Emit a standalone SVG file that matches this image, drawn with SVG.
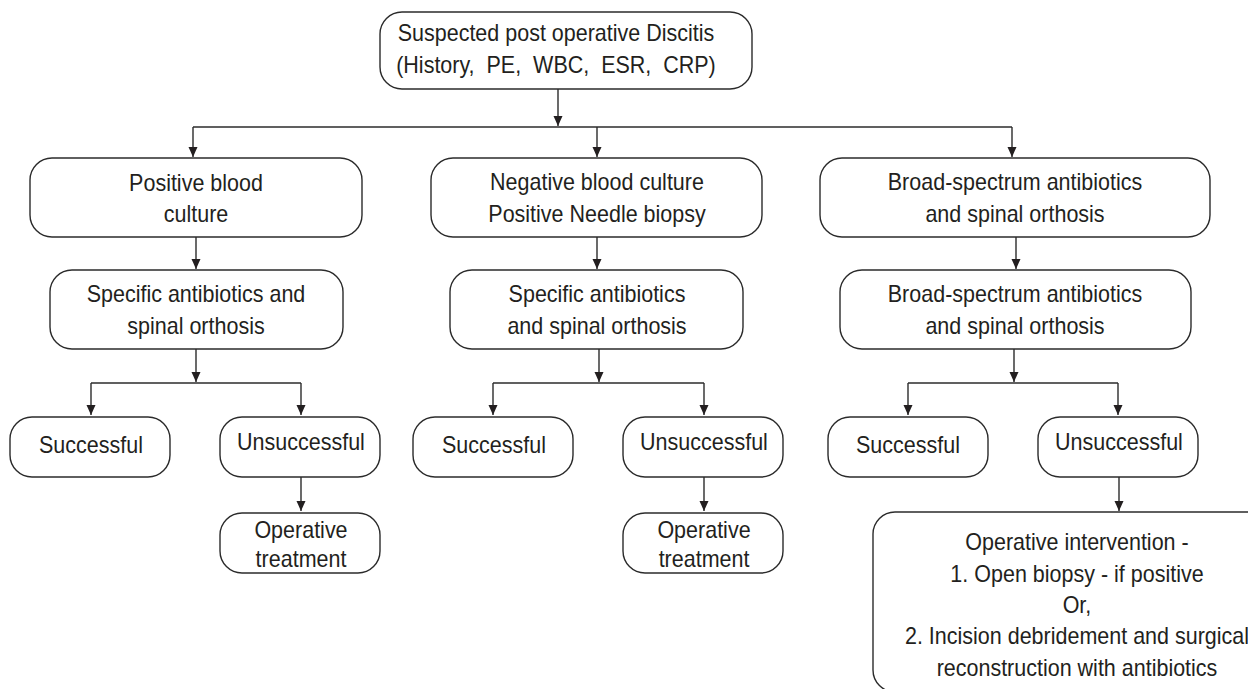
<svg xmlns="http://www.w3.org/2000/svg" width="1248" height="689" viewBox="0 0 1248 689">
<style>
.box{fill:#fff;stroke:#2b2b2b;stroke-width:1.4}
text{font-family:"Liberation Sans",Arial,sans-serif;font-size:23px;fill:#231f20;text-anchor:middle;transform-box:fill-box;transform-origin:center;transform:scaleX(0.935)}
.c{fill:none;stroke:#2b2b2b;stroke-width:1.4}
</style>
<defs>
<marker id="ah" markerUnits="userSpaceOnUse" markerWidth="10" markerHeight="10" refX="10" refY="4.5" orient="auto">
<path d="M0,0 L10,4.5 L0,9 z" fill="#231f20"/>
</marker>
</defs>
<rect width="1248" height="689" fill="#fff"/>
<g id="connectors">
<path class="c" d="M558,89 V126" marker-end="url(#ah)"/>
<path class="c" d="M193,127 H1012"/>
<path class="c" d="M193,127 V157" marker-end="url(#ah)"/>
<path class="c" d="M597,127 V157" marker-end="url(#ah)"/>
<path class="c" d="M1012,127 V157" marker-end="url(#ah)"/>
<path class="c" d="M196,237 V269" marker-end="url(#ah)"/>
<path class="c" d="M597,237 V269" marker-end="url(#ah)"/>
<path class="c" d="M1016,237 V269" marker-end="url(#ah)"/>
<path class="c" d="M196,349 V382" marker-end="url(#ah)"/>
<path class="c" d="M599,349 V382" marker-end="url(#ah)"/>
<path class="c" d="M1014,349 V382" marker-end="url(#ah)"/>
<path class="c" d="M91,383 H301"/>
<path class="c" d="M91,383 V415" marker-end="url(#ah)"/>
<path class="c" d="M301,383 V415" marker-end="url(#ah)"/>
<path class="c" d="M493,383 H704"/>
<path class="c" d="M493,383 V415" marker-end="url(#ah)"/>
<path class="c" d="M704,383 V415" marker-end="url(#ah)"/>
<path class="c" d="M908,383 H1118"/>
<path class="c" d="M908,383 V415" marker-end="url(#ah)"/>
<path class="c" d="M1118,383 V415" marker-end="url(#ah)"/>
<path class="c" d="M301,477 V511" marker-end="url(#ah)"/>
<path class="c" d="M704,477 V511" marker-end="url(#ah)"/>
<path class="c" d="M1119,477 V511" marker-end="url(#ah)"/>
</g>
<g id="n-top">
<rect class="box" x="380" y="12" width="372" height="77" rx="22"/>
<text x="556" y="41">Suspected post operative Discitis</text>
<text x="556" y="73" xml:space="preserve">(History,  PE,  WBC,  ESR,  CRP)</text>
</g>
<g id="n-posblood">
<rect class="box" x="30" y="158" width="332" height="79" rx="22"/>
<text x="196" y="191">Positive blood</text>
<text x="196" y="222">culture</text>
</g>
<g id="n-negblood">
<rect class="box" x="431" y="158" width="331" height="79" rx="22"/>
<text x="597" y="190">Negative blood culture</text>
<text x="597" y="222">Positive Needle biopsy</text>
</g>
<g id="n-broad1">
<rect class="box" x="820" y="158" width="390" height="79" rx="22"/>
<text x="1015" y="190">Broad-spectrum antibiotics</text>
<text x="1015" y="222">and spinal orthosis</text>
</g>
<g id="n-spec1">
<rect class="box" x="50" y="270" width="293" height="79" rx="22"/>
<text x="196" y="302">Specific antibiotics and</text>
<text x="196" y="334">spinal orthosis</text>
</g>
<g id="n-spec2">
<rect class="box" x="450" y="270" width="293" height="79" rx="22"/>
<text x="597" y="302">Specific antibiotics</text>
<text x="597" y="334">and spinal orthosis</text>
</g>
<g id="n-broad2">
<rect class="box" x="840" y="270" width="351" height="79" rx="22"/>
<text x="1015" y="302">Broad-spectrum antibiotics</text>
<text x="1015" y="334">and spinal orthosis</text>
</g>
<g id="n-succ1">
<rect class="box" x="10" y="417" width="160" height="60" rx="22"/>
<text x="91" y="453">Successful</text>
</g>
<g id="n-unsucc1">
<rect class="box" x="220" y="417" width="160" height="60" rx="22"/>
<text x="301" y="450">Unsuccessful</text>
</g>
<g id="n-succ2">
<rect class="box" x="413" y="417" width="160" height="60" rx="22"/>
<text x="494" y="453">Successful</text>
</g>
<g id="n-unsucc2">
<rect class="box" x="623" y="417" width="160" height="60" rx="22"/>
<text x="704" y="450">Unsuccessful</text>
</g>
<g id="n-succ3">
<rect class="box" x="828" y="417" width="160" height="60" rx="22"/>
<text x="908" y="453">Successful</text>
</g>
<g id="n-unsucc3">
<rect class="box" x="1038" y="417" width="160" height="60" rx="22"/>
<text x="1119" y="450">Unsuccessful</text>
</g>
<g id="n-optreat1">
<rect class="box" x="220" y="513" width="160" height="60" rx="22"/>
<text x="301" y="538">Operative</text>
<text x="301" y="567">treatment</text>
</g>
<g id="n-optreat2">
<rect class="box" x="623" y="513" width="160" height="60" rx="22"/>
<text x="704" y="538">Operative</text>
<text x="704" y="567">treatment</text>
</g>
<g id="n-opint">
<rect class="box" x="873" y="512" width="420" height="180" rx="22"/>
<text x="1077" y="550">Operative intervention -</text>
<text x="1077" y="582">1. Open biopsy - if positive</text>
<text x="1077" y="613">Or,</text>
<text x="1077" y="644">2. Incision debridement and surgical</text>
<text x="1077" y="676">reconstruction with antibiotics</text>
</g>
</svg>
